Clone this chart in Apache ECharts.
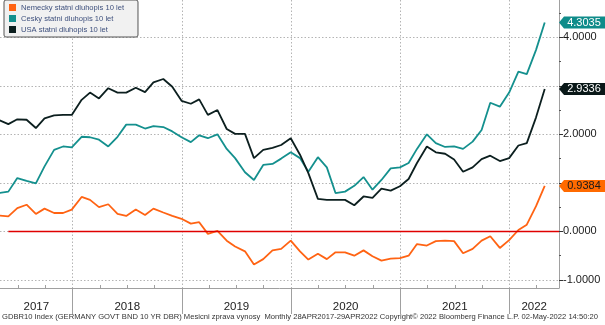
<!DOCTYPE html>
<html>
<head>
<meta charset="utf-8">
<script src="https://cdn.jsdelivr.net/npm/echarts@6/dist/echarts.min.js"></script>
<style>html,body{margin:0;padding:0;background:#fff;}#chart{width:605px;height:325px;}</style>
</head>
<body>
<div id="chart"></div>
<script>
const dates = [
 '2017-04-28','2017-05-31','2017-06-30','2017-07-31','2017-08-31','2017-09-29','2017-10-31','2017-11-30','2017-12-29',
 '2018-01-31','2018-02-28','2018-03-30','2018-04-30','2018-05-31','2018-06-29','2018-07-31','2018-08-31','2018-09-28','2018-10-31','2018-11-30','2018-12-31',
 '2019-01-31','2019-02-28','2019-03-29','2019-04-30','2019-05-31','2019-06-28','2019-07-31','2019-08-30','2019-09-30','2019-10-31','2019-11-29','2019-12-31',
 '2020-01-31','2020-02-28','2020-03-31','2020-04-30','2020-05-29','2020-06-30','2020-07-31','2020-08-31','2020-09-30','2020-10-30','2020-11-30','2020-12-31',
 '2021-01-29','2021-02-26','2021-03-31','2021-04-30','2021-05-31','2021-06-30','2021-07-30','2021-08-31','2021-09-30','2021-10-29','2021-11-30','2021-12-31',
 '2022-01-31','2022-02-28','2022-03-31','2022-04-29'
];
const deBond = [
 0.33,0.31,0.48,0.55,0.36,0.47,0.38,0.38,0.45,
 0.71,0.65,0.50,0.56,0.36,0.32,0.45,0.34,0.47,0.39,0.32,0.26,
 0.16,0.19,-0.05,0.01,-0.19,-0.31,-0.41,-0.68,-0.57,-0.39,-0.36,-0.19,
 -0.41,-0.58,-0.46,-0.57,-0.43,-0.43,-0.50,-0.39,-0.51,-0.60,-0.56,-0.55,
 -0.50,-0.26,-0.29,-0.20,-0.19,-0.20,-0.45,-0.36,-0.19,-0.10,-0.34,-0.18,
 0.03,0.14,0.52,0.9384
];
const czBond = [
 0.79,0.82,1.10,1.04,0.99,1.34,1.68,1.75,1.73,
 1.95,1.94,1.89,1.75,1.95,2.20,2.20,2.12,2.17,2.15,2.06,1.94,
 1.84,1.98,1.92,2.00,1.70,1.51,1.22,1.06,1.37,1.39,1.50,1.63,
 1.51,1.23,1.53,1.32,0.79,0.82,0.94,1.12,0.86,1.06,1.30,1.32,
 1.41,1.70,2.00,1.82,1.74,1.75,1.70,1.85,2.09,2.65,2.57,2.86,
 3.29,3.24,3.74,4.3035
];
const usBond = [
 2.30,2.21,2.31,2.30,2.13,2.33,2.39,2.40,2.40,
 2.71,2.86,2.74,2.95,2.86,2.86,2.96,2.87,3.07,3.14,2.98,2.69,
 2.63,2.72,2.40,2.50,2.11,2.01,2.01,1.51,1.68,1.72,1.78,1.92,
 1.58,1.20,0.67,0.65,0.65,0.65,0.54,0.72,0.69,0.88,0.84,0.93,
 1.08,1.41,1.75,1.63,1.60,1.48,1.23,1.32,1.49,1.56,1.45,1.51,
 1.77,1.82,2.35,2.9336
];
const seriesNames = ['Nemecky statni dluhopis 10 let','Cesky statni dluhopis 10 let','USA statni dluhopis 10 let'];
const seriesColors = ['#ff6313','#14908e','#0c1f1f'];
const tagColors = ['#ff6a00','#0f8c8a','#0a1818'];
const tagTextColors = ['#1a1a1a','#ffffff','#ffffff'];
const yearTicks = [2018,2019,2020,2021,2022];
const yTickValues = [-1,0,1,2,3,4];
const yLabelValues = [-1,0,2,4];
const yMinorValues = [-0.5,0.5,1.5,2.5,3.5,4.5];
const footerText = 'GDBR10 Index (GERMANY GOVT BND 10 YR DBR) Mesicni zprava vynosy  Monthly 28APR2017-29APR2022 Copyright\u00a9 2022 Bloomberg Finance L.P. 02-May-2022 14:50:20';

const X_MIN = 2017.3346, X_MAX = 2022.454;
const Y_MIN = -1.165, Y_MAX = 4.767;

function decYear(s) {
  const [y, m, d] = s.split('-').map(Number);
  const t = Date.UTC(y, m - 1, d), t0 = Date.UTC(y, 0, 1), t1 = Date.UTC(y + 1, 0, 1);
  return y + (t - t0) / (t1 - t0);
}
const xs = dates.map(decYear);
const yearLabelPos = [];
for (let y = Math.floor(X_MIN); y <= Math.floor(X_MAX); y++) {
  yearLabelPos.push((Math.max(y, X_MIN) + Math.min(y + 1, X_MAX)) / 2);
}
const quarterTicks = [];
for (let y = Math.floor(X_MIN); y <= Math.floor(X_MAX); y++) {
  [0.25, 0.5, 0.75].forEach(q => { const v = y + q; if (v > X_MIN && v < X_MAX) quarterTicks.push(v); });
}
const tagPath = 'path://M0,6 L5,0 L46,0 L46,12 L5,12 Z';
const FONT = 'Liberation Sans';
const gridColor = '#b4b4b4';
const axisColor = '#a0a0a0';

const allData = [deBond, czBond, usBond];
const series = allData.map((arr, k) => {
  const last = arr[arr.length - 1];
  const s = {
    name: seriesNames[k],
    type: 'line',
    xAxisIndex: 0,
    yAxisIndex: 0,
    data: arr.map((v, i) => [xs[i], v]),
    showSymbol: false,
    symbol: 'none',
    clip: false,
    lineStyle: { color: seriesColors[k], width: 1.8 },
    itemStyle: { color: seriesColors[k] },
    z: 3 + k,
    markPoint: {
      symbol: tagPath,
      symbolSize: [46, 12],
      symbolOffset: [23, 0],
      symbolKeepAspect: false,
      silent: true,
      itemStyle: { color: tagColors[k] },
      label: { show: true, position: 'inside', offset: [2, 0], color: tagTextColors[k], fontSize: 11, fontFamily: FONT,
        formatter: p => Number(p.value).toFixed(4) },
      data: [{ coord: [X_MAX, last], value: last }]
    }
  };
  if (k === 0) {
    s.markLine = {
      silent: true,
      symbol: 'none',
      label: { show: false },
      lineStyle: { color: '#e00000', width: 1.4, type: 'solid' },
      data: [[{ coord: [xs[1], 0] }, { coord: [X_MAX, 0] }]]
    };
  }
  return s;
});

const chart = echarts.init(document.getElementById('chart'), null, { renderer: 'canvas' });
chart.setOption({
  animation: false,
  backgroundColor: '#ffffff',
  textStyle: { fontFamily: FONT },
  title: {
    text: footerText, left: 2, top: 313, padding: 0,
    textStyle: { fontSize: 7.6, fontWeight: 'normal', color: '#333', fontFamily: FONT }
  },
  legend: {
    data: seriesNames,
    orient: 'vertical', left: 4, top: 0,
    icon: 'rect', itemWidth: 7, itemHeight: 7, itemGap: 2,
    padding: [3, 14, 3, 5],
    backgroundColor: '#f1f1f1', borderColor: '#555', borderWidth: 1, borderRadius: 2,
    textStyle: { fontSize: 7.6, color: '#3d4f7c', fontFamily: FONT, lineHeight: 9 }
  },
  grid: { left: 0, right: 46, top: 0, bottom: 37, containLabel: false },
  xAxis: [
    {
      type: 'value', min: X_MIN, max: X_MAX, position: 'bottom',
      axisLine: { show: true, onZero: false, lineStyle: { color: axisColor, width: 1 } },
      axisTick: { show: true, customValues: yearTicks, length: 26, lineStyle: { color: axisColor } },
      axisLabel: { show: true, customValues: yearLabelPos, formatter: v => String(Math.floor(v)), fontSize: 11.5, color: '#222', margin: 13, fontFamily: FONT },
      splitLine: { show: true, lineStyle: { color: gridColor, type: [1.5, 2], width: 1 } }
    },
    {
      type: 'value', min: X_MIN, max: X_MAX, position: 'bottom',
      axisLine: { show: false, onZero: false },
      axisTick: { show: true, inside: true, customValues: quarterTicks, length: 3, lineStyle: { color: axisColor } },
      axisLabel: { show: false },
      splitLine: { show: false }
    }
  ],
  yAxis: [
    {
      type: 'value', min: Y_MIN, max: Y_MAX, position: 'right',
      axisLine: { show: true, onZero: false, lineStyle: { color: axisColor, width: 1 } },
      axisTick: { show: true, customValues: yTickValues, length: 4, lineStyle: { color: '#333' } },
      axisLabel: { show: true, customValues: yLabelValues, formatter: v => Number(v).toFixed(4), fontSize: 11, color: '#1a1a1a', margin: 4, fontFamily: FONT },
      splitLine: { show: true, lineStyle: { color: gridColor, type: [1.5, 2], width: 1 } }
    },
    {
      type: 'value', min: Y_MIN, max: Y_MAX, position: 'right',
      axisLine: { show: false, onZero: false },
      axisTick: { show: true, customValues: yMinorValues, length: 2, lineStyle: { color: '#555' } },
      axisLabel: { show: false },
      splitLine: { show: false }
    }
  ],
  series: series
});
</script>
</body>
</html>
